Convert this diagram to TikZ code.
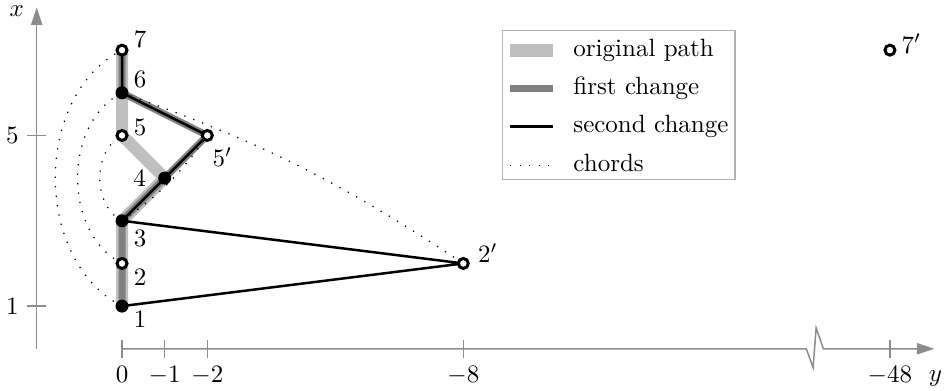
\documentclass[tikz,border=0pt]{standalone}
\usetikzlibrary{arrows.meta}
\definecolor{lightpath}{gray}{0.75}
\definecolor{darkpath}{gray}{0.5}
\definecolor{axisgray}{gray}{0.55}
\definecolor{legendgray}{gray}{0.7}
\begin{document}
\begin{tikzpicture}[x=0.6cm,y=0.6cm,
  filled/.style={circle,fill=black,inner sep=0pt,minimum size=5.2pt},
  hollow/.style={circle,draw=black,fill=white,line width=1.2pt,inner sep=0pt,minimum size=4pt},
  origpath/.style={lightpath,line width=4.8pt,line join=round},
  firstpath/.style={darkpath,line width=2.8pt,line join=round},
  secondpath/.style={black,line width=1pt,line join=round},
  chord/.style={black,line width=0.5pt,dash pattern=on 0.5pt off 3.3pt},
  axisline/.style={axisgray,line width=0.6pt},
  lbl/.style={inner sep=0pt},
  legtext/.style={anchor=west,inner sep=0pt,text height=6.9pt,text depth=1.9pt},
]
\useasboundingbox (-2.860,-0.967) rectangle (19.268,8.175);

% axes
\coordinate (xa0) at (-2,0);
\coordinate (xa1) at (-2,8);
\draw[axisline,-{Triangle[length=7pt,width=4.5pt]}] (xa0) -- (xa1);
\node[lbl] (xlab) at ([shift={(-8pt,-1.5pt)}]xa1) {$x$};
\foreach \v in {1,5}{
  \coordinate (vt\v) at (-2,\v);
  \draw[axisline] ([xshift=-3.7pt]vt\v) -- ([xshift=3.7pt]vt\v);
  \node[left] (vl\v) at ([xshift=-3.7pt]vt\v) {$\v$};
}
\coordinate (ya0) at (0,0);
\coordinate (yb1) at (16.04,0);
\coordinate (yb2) at (16.20,-0.44);
\coordinate (yb3) at (16.27,0.49);
\coordinate (yb4) at (16.44,0);
\coordinate (ya1) at (19.04,0);
\draw[axisline,-{Triangle[length=7pt,width=4.5pt]}] (ya0) -- (yb1) -- (yb2) -- (yb3) -- (yb4) -- (ya1);
\node[anchor=base,inner sep=0pt] (ylab) at ([shift={(0.5pt,-13.2pt)}]ya1) {$y$};
\foreach \h/\t in {0/0,1/-1,2/-2,8/-8,18/-48}{
  \coordinate (ht\h) at (\h,0);
  \draw[axisline] ([yshift=3.6pt]ht\h) -- ([yshift=-3.6pt]ht\h);
  \node[below] (hl\h) at ([yshift=-3.6pt]ht\h) {$\t$};
}

% points
\coordinate (p1) at (0,1);
\coordinate (p2) at (0,2);
\coordinate (p3) at (0,3);
\coordinate (p4) at (1,4);
\coordinate (p5) at (0,5);
\coordinate (p6) at (0,6);
\coordinate (p7) at (0,7);
\coordinate (p5b) at (2,5);
\coordinate (p2b) at (8,2);
\coordinate (p7b) at (18,7);

% paths
\draw[origpath] (p1) -- (p2) -- (p3) -- (p4) -- (p5) -- (p6) -- (p7);
\draw[firstpath] (p1) -- (p2) -- (p3) -- (p4) -- (p5b) -- (p6) -- (p7);
\draw[secondpath] (p1) -- (p2b) -- (p3) -- (p4) -- (p5b) -- (p6) -- (p7);

% chords
\draw[chord] (p1) to[bend left=63] (p7);
\draw[chord] (p2) to[bend left=63] (p6);
\draw[chord] (p3) to[bend left=63] (p5);
\draw[chord] (p3) to[bend right=10] (p5b);
\draw[chord] (p6) to[bend left=7] (p2b);

% vertices
\node[filled] (n1) at (p1) {};
\node[hollow] (n2) at (p2) {};
\node[filled] (n3) at (p3) {};
\node[filled] (n4) at (p4) {};
\node[hollow] (n5) at (p5) {};
\node[filled] (n6) at (p6) {};
\node[hollow] (n7) at (p7) {};
\node[hollow] (n5b) at (p5b) {};
\node[hollow] (n2b) at (p2b) {};
\node[hollow] (n7b) at (p7b) {};

% vertex labels
\node[lbl] (l7) at ([shift={(7.2pt,4.2pt)}]p7) {$7$};
\node[lbl] (l6) at ([shift={(7.2pt,5.2pt)}]p6) {$6$};
\node[lbl] (l5) at ([shift={(7.2pt,3.2pt)}]p5) {$5$};
\node[lbl] (l4) at ([shift={(-10pt,0pt)}]p4) {$4$};
\node[lbl] (l3) at ([shift={(7.2pt,-7.2pt)}]p3) {$3$};
\node[lbl] (l2) at ([shift={(7.2pt,-5.6pt)}]p2) {$2$};
\node[lbl] (l1) at ([shift={(7.2pt,-5.2pt)}]p1) {$1$};
\node[lbl] (l5b) at ([shift={(6pt,-8.6pt)}]p5b) {$5'$};
\node[lbl] (l2b) at ([shift={(9.8pt,4.2pt)}]p2b) {$2'$};
\node[lbl] (l7b) at ([shift={(8.6pt,2.6pt)}]p7b) {$7'$};

% legend
\node[draw=legendgray,line width=0.5pt,inner sep=0pt,minimum width=3.276cm,minimum height=2.092cm] (legend) at (11.64,5.713) {};
\coordinate (la1) at (9.10,6.99);  \coordinate (lb1) at (10.11,6.99);
\coordinate (la2) at (9.10,6.10);  \coordinate (lb2) at (10.11,6.10);
\coordinate (la3) at (9.10,5.21);  \coordinate (lb3) at (10.11,5.21);
\coordinate (la4) at (9.10,4.30);  \coordinate (lb4) at (10.11,4.30);
\draw[lightpath,line width=5pt] (la1) -- (lb1);
\draw[darkpath,line width=2.8pt] (la2) -- (lb2);
\draw[secondpath] (la3) -- (lb3);
\draw[chord] (la4) -- (lb4);
\node[legtext] (lt1) at (10.57,6.99) {original path};
\node[legtext] (lt2) at (10.57,6.10) {first change};
\node[legtext] (lt3) at (10.57,5.21) {second change};
\node[legtext] (lt4) at (10.57,4.30) {chords};
\end{tikzpicture}
\end{document}
